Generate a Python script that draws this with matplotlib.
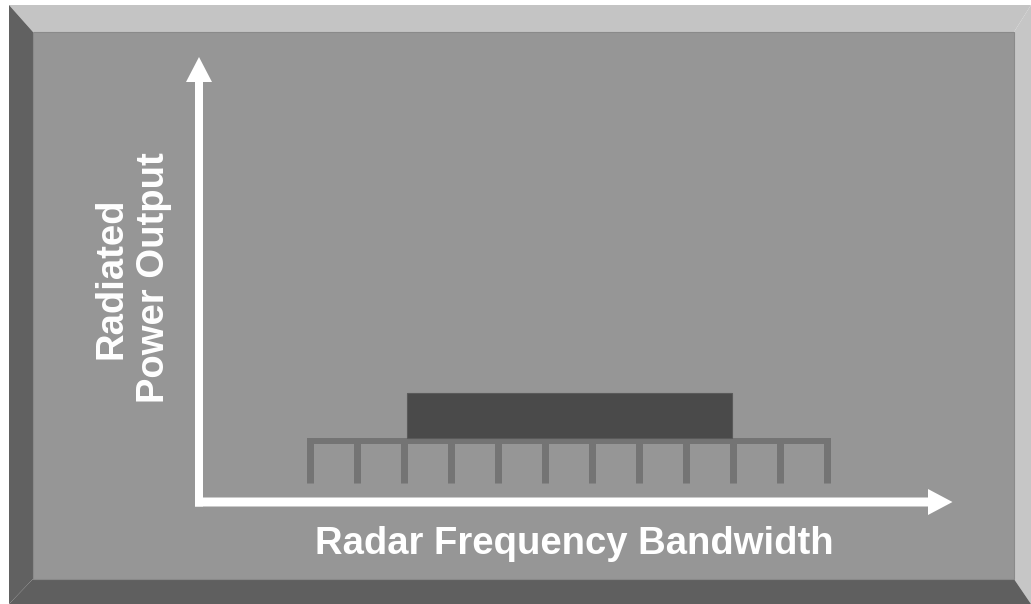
import numpy as np
import matplotlib
matplotlib.use("Agg")
import matplotlib.pyplot as plt
from matplotlib.patches import Polygon, Rectangle

# ---- data ----
channel_index = [0, 1, 2, 3, 4, 5, 6, 7, 8, 9, 10, 11]   # frequency channels (comb teeth)
grid_level = 0.56        # level of the channel grid bar
tooth_floor = 0.17       # bottom of the channel teeth
band_edges = [2.05, 8.97]  # jammed band (channel units)
band_floor = 0.587
band_power = 1.0
x_label = "Radar Frequency Bandwidth"
y_label = "Radiated\nPower Output"

W, H = 1031, 604
fig = plt.figure(figsize=(W / 100, H / 100), dpi=100)
fig.patch.set_facecolor("white")

# ---- background frame (pixel coordinates) ----
bg = fig.add_axes([0, 0, 1, 1])
bg.set_xlim(0, W)
bg.set_ylim(H, 0)
bg.axis("off")

light = "#c4c4c4"
dark = "#5f5f5f"
panel = "#969696"
ox0, oy0, ox1, oy1 = 9, 5, 1031, 604
ix0, iy0, ix1, iy1 = 33, 32, 1014, 579
bg.add_patch(Polygon([(ox0, oy0), (ox1, oy0), (ix1, iy0), (ix0, iy0)], closed=True, fc=light, ec="none"))
bg.add_patch(Polygon([(ox1, oy0), (ox1, oy1), (ix1, iy1), (ix1, iy0)], closed=True, fc="#c6c6c6", ec="none"))
bg.add_patch(Polygon([(ox0, oy1), (ox1, oy1), (ix1, iy1), (ix0, iy1)], closed=True, fc=dark, ec="none"))
bg.add_patch(Polygon([(ox0, oy0), (ix0, iy0), (ix0, iy1), (ox0, oy1)], closed=True, fc="#616161", ec="none"))
bg.add_patch(Rectangle((ix0, iy0), ix1 - ix0, iy1 - iy0, fc=panel, ec="#8a8a8a", lw=0.8))

# axis arrows
bg.add_patch(Polygon([(195, 506.5), (195, 82), (186, 82), (199, 57), (212, 82), (203, 82), (203, 506.5)],
                     closed=True, fc="white", ec="none"))
bg.add_patch(Polygon([(195, 506.5), (195, 497.5), (928, 497.5), (928, 489), (952.5, 502), (928, 515),
                      (928, 506.5)], closed=True, fc="white", ec="none"))

# ---- data axes ----
px_l, px_r, px_t, px_b = 199, 952, 57, 502
ax = fig.add_axes([px_l / W, 1 - px_b / H, (px_r - px_l) / W, (px_b - px_t) / H])
ax.patch.set_alpha(0)
ax.axis("off")
# pixel x = 310.3 + 47*c ; pixel y = 502 - 109*p
ax.set_xlim((px_l - 310.3) / 47, (px_r - 310.3) / 47)
ax.set_ylim(0, (px_b - px_t) / 109)

comb_col = "#747474"
tooth_w = 7 * 0.72  # points
half_tooth = 3.5 / 47
ax.hlines(grid_level, channel_index[0] - half_tooth, channel_index[-1] + half_tooth,
          color=comb_col, lw=6 * 0.72, capstyle="butt")
ax.vlines(channel_index, tooth_floor, grid_level, color=comb_col, lw=tooth_w, capstyle="butt")

ax.bar((band_edges[0] + band_edges[1]) / 2, band_power - band_floor,
       width=band_edges[1] - band_edges[0], bottom=band_floor,
       color="#4a4a4a", edgecolor="#5a5a5a", linewidth=0.8, zorder=3)

# ---- labels ----
font = ["Liberation Sans", "DejaVu Sans"]
bg.text(574, 553.6, x_label, color="white", fontsize=27.5, fontweight="bold",
        family=font, ha="center", va="baseline")
bg.text(133, 278, y_label, color="white", fontsize=27.5, fontweight="bold",
        family=font, ha="center", va="center", rotation=90, multialignment="center",
        linespacing=1.22)

fig.savefig("out.png", dpi=100, facecolor=fig.get_facecolor())
